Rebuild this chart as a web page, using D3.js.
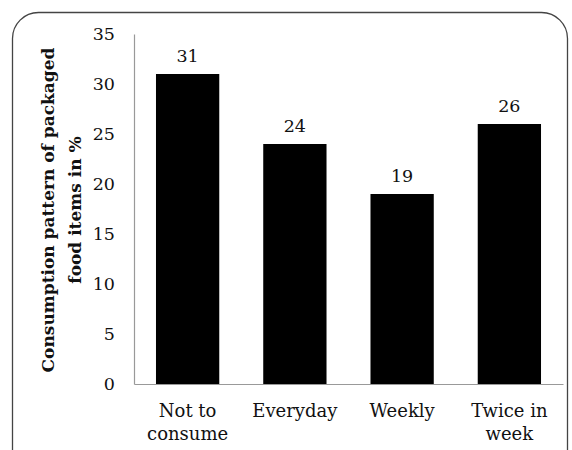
<!DOCTYPE html>
<html>
<head>
<meta charset="utf-8">
<script src="https://cdn.jsdelivr.net/npm/d3@7"></script>
<style>
  html, body { margin: 0; padding: 0; background: #fff; }
  svg text { font-family: "DejaVu Serif", "Liberation Serif", serif; fill: #111; }
</style>
</head>
<body>
<svg id="chart" width="572" height="450"></svg>
<script>
// Consumption pattern of packaged food items (%)
const categories = [["Not to", "consume"], ["Everyday"], ["Weekly"], ["Twice in", "week"]];
const values = [31, 24, 19, 26];
const yTicks = [0, 5, 10, 15, 20, 25, 30, 35];
const yTitle = ["Consumption pattern of packaged", "food items in %"];

const svg = d3.select("#chart");
const margin = { left: 134, right: 9, top: 34, bottom: 66 };
const W = 572, H = 450;

// outer frame with rounded corners
svg.append("rect")
  .attr("x", 12.5).attr("y", 12.5)
  .attr("width", 555).attr("height", 470)
  .attr("rx", 26).attr("ry", 26)
  .attr("fill", "none").attr("stroke", "#444").attr("stroke-width", 1.3);

const x = d3.scaleBand()
  .domain(d3.range(values.length))
  .range([margin.left, W - margin.right])
  .paddingInner(0.41).paddingOuter(0.205);

const y = d3.scaleLinear().domain([0, 35]).range([H - margin.bottom, margin.top]);

// bars
svg.selectAll("rect.bar").data(values).join("rect")
  .attr("class", "bar")
  .attr("x", (d, i) => x(i))
  .attr("y", d => y(d))
  .attr("width", x.bandwidth())
  .attr("height", d => y(0) - y(d))
  .attr("fill", "#000");

// value labels
svg.selectAll("text.val").data(values).join("text")
  .attr("class", "val")
  .attr("x", (d, i) => x(i) + x.bandwidth() / 2)
  .attr("y", d => y(d) - 12)
  .attr("text-anchor", "middle")
  .style("font-size", "17.5px")
  .text(d => d);

// y axis
const yAxis = svg.append("g")
  .attr("transform", `translate(${margin.left},0)`)
  .call(d3.axisLeft(y).tickValues(yTicks).tickSize(0).tickPadding(19));
yAxis.select(".domain").attr("stroke", "#999").attr("stroke-width", 1.2);
yAxis.selectAll("text").style("font-size", "17.5px").style("font-family", "DejaVu Serif").attr("fill", "#111");

// x axis
const xAxis = svg.append("g")
  .attr("transform", `translate(0,${y(0)})`)
  .call(d3.axisBottom(x).tickSize(0).tickFormat(""));
xAxis.select(".domain").attr("stroke", "#999").attr("stroke-width", 1.2);

xAxis.selectAll(".tick").each(function(d) {
  const t = d3.select(this).append("text")
    .attr("text-anchor", "middle")
    .attr("y", 33)
    .style("font-size", "18px")
    .attr("fill", "#111");
  categories[d].forEach((line, k) => {
    t.append("tspan").attr("x", 0).attr("dy", k === 0 ? 0 : 23).text(line);
  });
});

// y axis title
const title = svg.append("text")
  .attr("transform", `translate(48,${(y(0) + y(35)) / 2 + 1}) rotate(-90)`)
  .attr("text-anchor", "middle")
  .style("font-size", "17px")
  .style("font-weight", "bold");
yTitle.forEach((line, k) => {
  title.append("tspan").attr("x", 0).attr("dy", k === 0 ? 6 : 27).text(line);
});
</script>
</body>
</html>
